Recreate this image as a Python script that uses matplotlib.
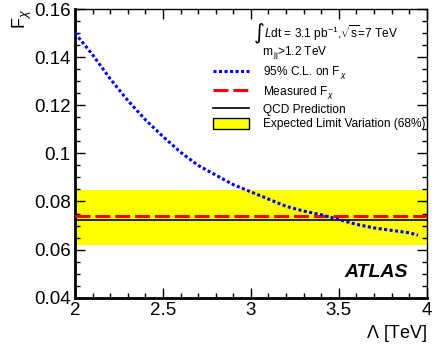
import matplotlib
matplotlib.use("Agg")
import matplotlib.pyplot as plt
from matplotlib.lines import Line2D
from matplotlib.patches import Patch
from matplotlib.ticker import MultipleLocator

plt.rcParams['font.family'] = ['Liberation Sans', 'DejaVu Sans']
plt.rcParams['mathtext.fontset'] = 'custom'
plt.rcParams['mathtext.rm'] = 'Liberation Sans'
plt.rcParams['mathtext.it'] = 'Liberation Sans:italic'

# 95% C.L. limit on F_chi vs Lambda
lam = [2.0, 2.1, 2.2, 2.3, 2.4, 2.5, 2.6, 2.7, 2.8, 2.9, 3.0,
       3.1, 3.2, 3.3, 3.4, 3.5, 3.6, 3.7, 3.8, 3.9, 3.95]
fchi_limit = [0.150, 0.141, 0.131, 0.122, 0.114, 0.107, 0.1005, 0.095, 0.091, 0.087, 0.084,
              0.081, 0.078, 0.076, 0.0745, 0.0725, 0.0705, 0.069, 0.068, 0.067, 0.066]
fchi_measured = 0.0739
fchi_qcd = 0.0722
band_lo, band_hi = 0.0621, 0.0846

xticks = [2, 2.5, 3, 3.5, 4]
xticklabels = ['2', '2.5', '3', '3.5', '4']
yticks = [0.04, 0.06, 0.08, 0.1, 0.12, 0.14, 0.16]
yticklabels = ['0.04', '0.06', '0.08', '0.1', '0.12', '0.14', '0.16']

fig = plt.figure(figsize=(4.32, 3.48), dpi=100)
ax = fig.add_axes([0.1736, 0.1445, 0.8144, 0.8295])

ax.axhspan(band_lo, band_hi, color='#ffff00', lw=0, zorder=1)
ax.axhline(fchi_qcd, color='black', lw=1.2, zorder=2)
ax.axhline(fchi_measured, color='#ff0000', lw=2.2, ls=(0, (4.9, 1.6)), zorder=3)
ax.plot(lam, fchi_limit, color='#0000ff', lw=2.2, ls=(0, (1, 0.8)), zorder=4)

ax.set_xlim(2, 4)
ax.set_ylim(0.04, 0.16)
ax.set_xticks(xticks)
ax.set_xticklabels(xticklabels)
ax.set_yticks(yticks)
ax.set_yticklabels(yticklabels)
ax.xaxis.set_minor_locator(MultipleLocator(0.1))
ax.yaxis.set_minor_locator(MultipleLocator(0.005))
ax.tick_params(which='both', direction='in', top=True, right=True, labelsize=13.5)
ax.tick_params(axis='x', pad=3)
ax.tick_params(axis='y', pad=3)
ax.tick_params(which='major', length=7, width=1)
ax.tick_params(which='minor', length=3.6, width=1)
for s in ['left', 'bottom']:
    ax.spines[s].set_linewidth(2)
for s in ['top', 'right']:
    ax.spines[s].set_linewidth(1)

ax.set_xlabel(r'$\Lambda$ [TeV]', fontsize=13, loc='right', labelpad=3)
ax.set_ylabel(r'F$_{\chi}$', fontsize=13, loc='top', labelpad=0)

# header lines above the legend
ax.text(0.523, 0.917, '\u222b', transform=ax.transAxes, ha='center', va='center',
        fontsize=15, family='DejaVu Sans')
ax.text(0.537, 0.917, r'$L$dt = 3.1 pb$^{-1}$,$\sqrt{\rm s}$=7 TeV', transform=ax.transAxes,
        ha='left', va='center', fontsize=8.6)
ax.text(0.531, 0.851, r'm$_{\,\rm jj}$>1.2 TeV', transform=ax.transAxes,
        ha='left', va='center', fontsize=8.6)

handles = [Line2D([], [], color='#0000ff', lw=2.2, ls=(0, (1, 0.8))),
           Line2D([], [], color='#ff0000', lw=2.2, ls=(0, (4.9, 1.6))),
           Line2D([], [], color='black', lw=1.2),
           Patch(facecolor='#ffff00', edgecolor='black', lw=1)]
labels = [r'95% C.L. on F$_{\,\chi}$',
          r'Measured F$_{\,\chi}$',
          'QCD Prediction',
          'Expected Limit Variation (68%)']
ax.legend(handles, labels, loc='upper left', bbox_to_anchor=(0.38, 0.825),
          frameon=False, fontsize=8.6, handlelength=2.95, handleheight=1.0,
          labelspacing=0.2, handletextpad=1.2, borderaxespad=0)

ax.text(0.946, 0.058, 'ATLAS', transform=ax.transAxes, ha='right', va='bottom',
        fontsize=14, fontweight='bold', fontstyle='italic')

fig.savefig('out.png', dpi=100)
